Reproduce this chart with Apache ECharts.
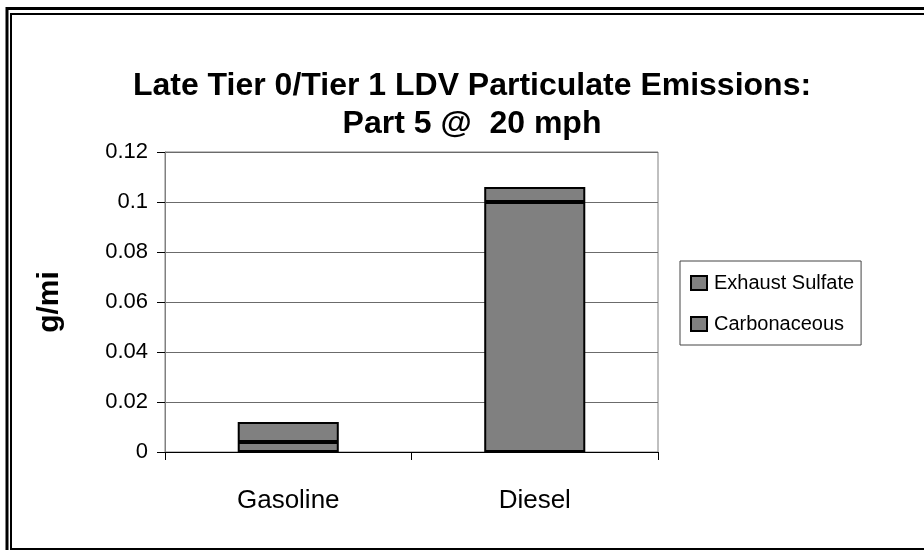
<!DOCTYPE html>
<html>
<head>
<meta charset="utf-8">
<script src="https://cdn.jsdelivr.net/npm/echarts@6/dist/echarts.min.js"></script>
<style>
  html, body { margin: 0; padding: 0; background: #fff; }
  #chart { width: 924px; height: 550px; }
</style>
</head>
<body>
<div id="chart"></div>
<script>
const categories = ['Gasoline', 'Diesel']
const carbonaceous = [0.004, 0.1]
const exhaustSulfate = [0.008, 0.006]
const yTicks = { min: 0, max: 0.12, interval: 0.02 }

const font = '"Liberation Sans", Arial, sans-serif'
const myChart = echarts.init(document.getElementById('chart'))

const barStyle = {
  color: '#808080',
  borderColor: '#000',
  borderWidth: 2
}

myChart.setOption({
  animation: false,
  title: {
    text: 'Late Tier 0/Tier 1 LDV Particulate Emissions:\nPart 5 @  20 mph',
    left: 467,
    top: 62,
    textAlign: 'center',
    textStyle: {
      fontFamily: font,
      fontSize: 32,
      fontWeight: 'bold',
      color: '#000',
      lineHeight: 38
    }
  },
  legend: {
    data: ['Exhaust Sulfate', 'Carbonaceous'],
    orient: 'vertical',
    left: 680,
    top: 261,
    padding: [11, 7, 10, 10],
    itemGap: 19,
    itemWidth: 16,
    itemHeight: 14,
    icon: 'rect',
    borderColor: '#444',
    borderWidth: 1,
    itemStyle: { color: '#808080', borderColor: '#000', borderWidth: 2 },
    textStyle: { fontFamily: font, fontSize: 20, color: '#000', lineHeight: 22, padding: [0, 0, 0, 2] }
  },
  grid: {
    left: 165,
    right: 266,
    top: 152,
    bottom: 98,
    show: true,
    borderColor: '#808080',
    borderWidth: 1,
    containLabel: false
  },
  xAxis: {
    type: 'category',
    data: categories,
    axisLine: { lineStyle: { color: '#000', width: 1 } },
    axisTick: { show: true, length: 8, lineStyle: { color: '#000' } },
    axisLabel: { fontFamily: font, fontSize: 26, color: '#000', margin: 36 }
  },
  yAxis: {
    type: 'value',
    min: yTicks.min,
    max: yTicks.max,
    interval: yTicks.interval,
    name: 'g/mi',
    nameLocation: 'middle',
    nameGap: 100,
    nameRotate: 90,
    nameTextStyle: { fontFamily: font, fontSize: 30, fontWeight: 'bold', color: '#000' },
    axisLine: { show: true, lineStyle: { color: '#808080', width: 1 } },
    axisTick: { show: true, length: 8, lineStyle: { color: '#000' } },
    axisLabel: { fontFamily: font, fontSize: 22, color: '#000', margin: 17 },
    splitLine: { lineStyle: { color: '#6b6b6b', width: 1 } }
  },
  series: [
    {
      name: 'Carbonaceous',
      type: 'bar',
      stack: 'Total',
      barWidth: '41%',
      data: carbonaceous,
      itemStyle: barStyle
    },
    {
      name: 'Exhaust Sulfate',
      type: 'bar',
      stack: 'Total',
      barWidth: '41%',
      data: exhaustSulfate,
      itemStyle: barStyle
    }
  ],
  graphic: [
    {
      type: 'rect',
      silent: true,
      shape: { x: 7, y: 8.5, width: 1000, height: 1000 },
      style: { fill: 'none', stroke: '#000', lineWidth: 3 }
    },
    {
      type: 'rect',
      silent: true,
      shape: { x: 11, y: 14, width: 1000, height: 535 },
      style: { fill: 'none', stroke: '#000', lineWidth: 2 }
    }
  ]
})
</script>
</body>
</html>
